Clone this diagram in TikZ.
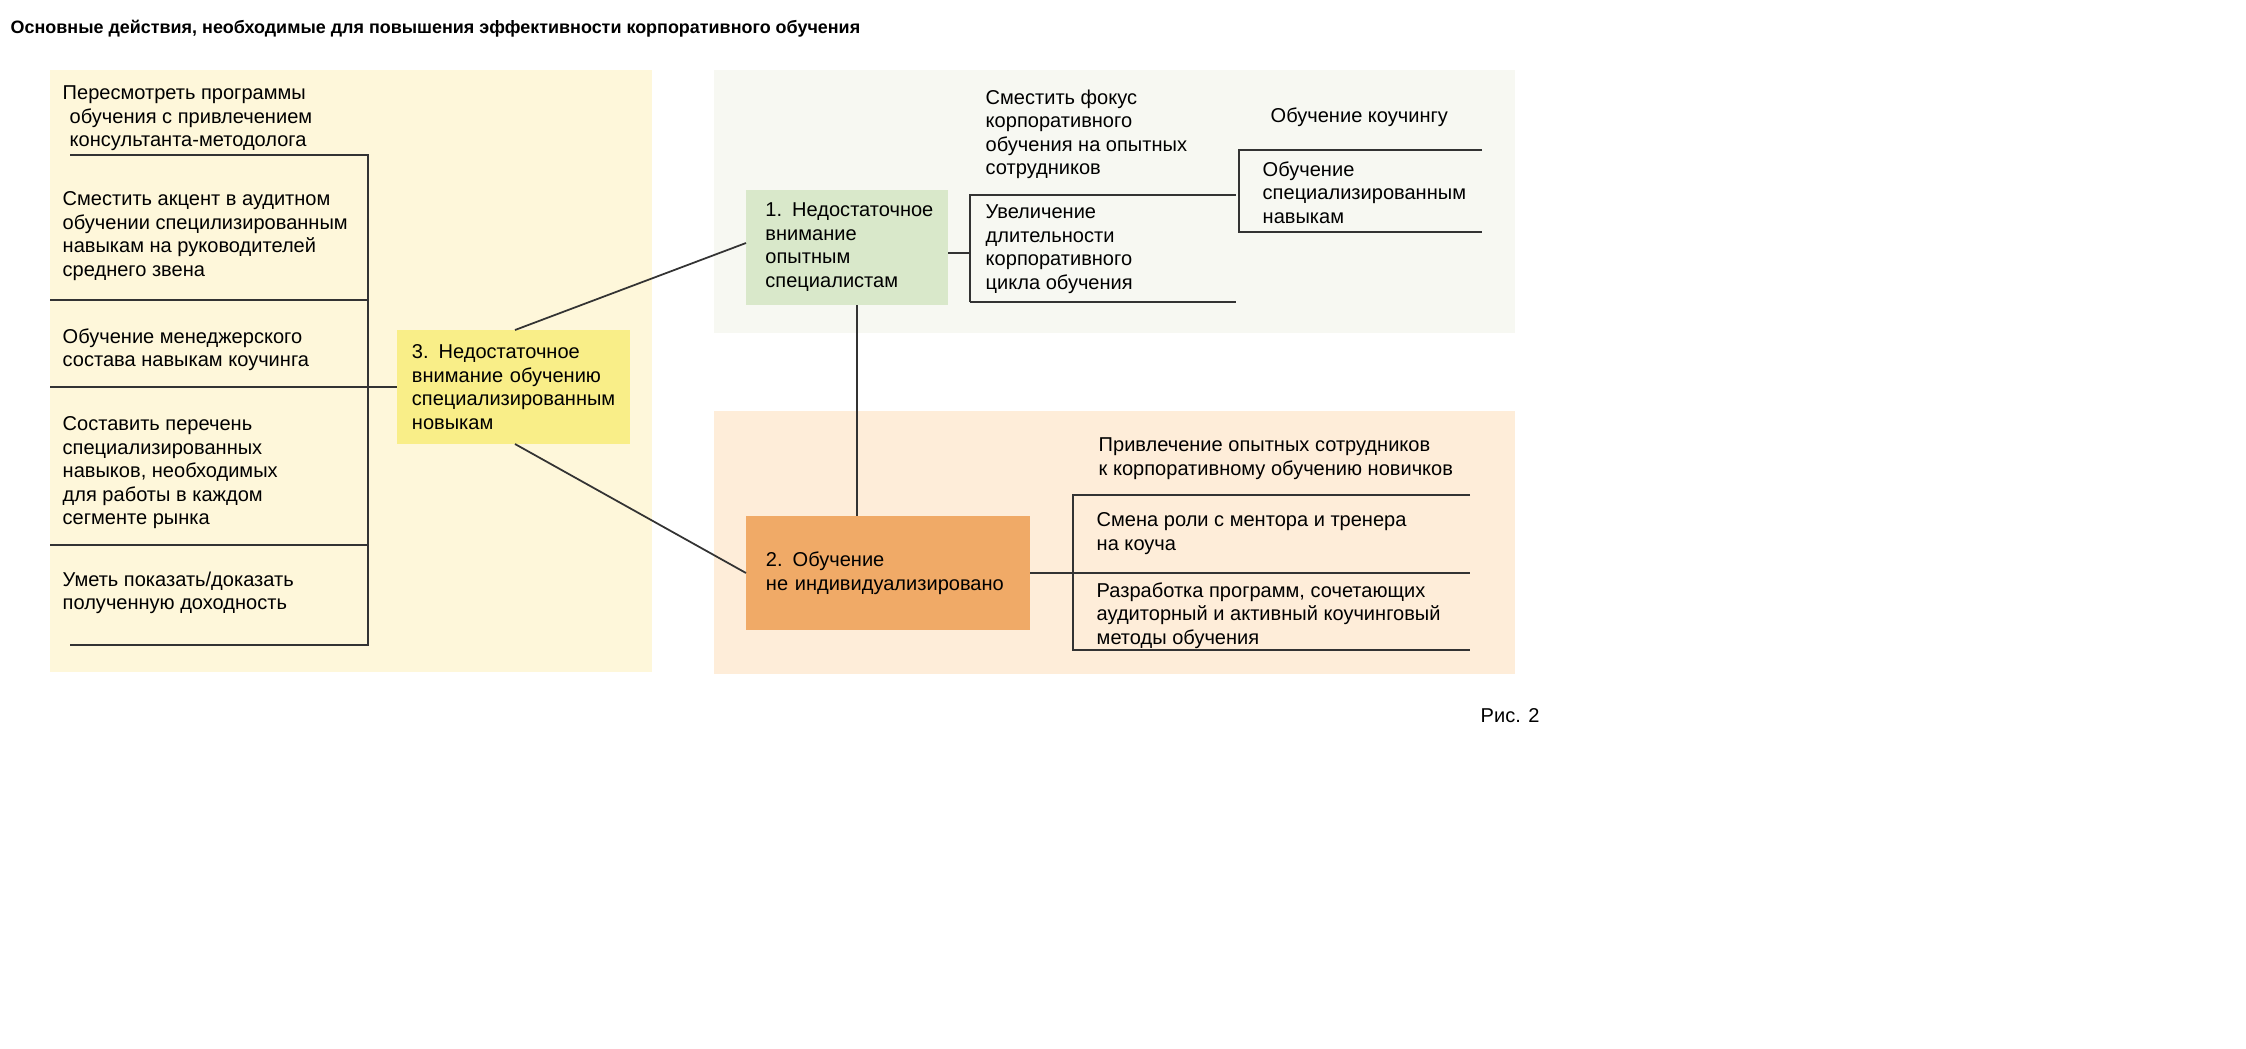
\documentclass[tikz,border=0pt]{standalone}
\usepackage{fontspec}
\setmainfont{Liberation Sans}
\usetikzlibrary{positioning}
\definecolor{bgyellow}{HTML}{FEF7DA}
\definecolor{bggrey}{HTML}{F7F8F2}
\definecolor{bgpeach}{HTML}{FEEDD9}
\definecolor{boxyellow}{HTML}{F9EE88}
\definecolor{boxgreen}{HTML}{D9E8CA}
\definecolor{boxorange}{HTML}{F0AA67}
\tikzset{
  txt/.style={anchor=north west, inner sep=0pt, align=left, font=\fontsize{5.7}{6.7}\selectfont},
  issue/.style={inner sep=0pt, text width=#1, align=left, font=\fontsize{5.7}{6.7}\selectfont},
  ln/.style={draw=black!80, line width=0.5pt}
}
\begin{document}
\begin{tikzpicture}[x=0.01cm,y=-0.01cm]
	\useasboundingbox (0,0) rectangle (2246,1048);
	% backgrounds
	\fill [bgyellow] (50,70) rectangle (652,672);
	\fill [bggrey] (714,70) rectangle (1515,333);
	\fill [bgpeach] (714,411) rectangle (1515,674);
	\node [txt, font=\bfseries\fontsize{5.1}{6.7}\selectfont] (title) at (10,19) {Основные действия, необходимые для повышения эффективности корпоративного обучения};
	% issue boxes
	\fill [boxyellow] (397,330) rectangle (630,444);
	\node [issue=2.02cm] (i3) at (513,387) {3. Недостаточное\\внимание обучению\\специализированным\\новыкам};
	\fill [boxgreen] (746,190) rectangle (948,305);
	\node [issue=1.75cm] (i1) at (853,247) {1. Недостаточное\\внимание\\опытным\\специалистам};
	\fill [boxorange] (746,516) rectangle (1030,630);
	\node [issue=2.44cm] (i2) at (888,573) {2. Обучение\\не индивидуализировано};
	\coordinate (b3n) at (515,330);
	\coordinate (b3s) at (515,444);
	\coordinate (b1w) at (746,243);
	\coordinate (b1s) at (857,305);
	\coordinate (b1e) at (948,253);
	\coordinate (b2w) at (746,573);
	\coordinate (b2n) at (857,516);
	\coordinate (b2e) at (1030,573);
	\coordinate (b3w) at (397,387);
	% left bracket
	\coordinate (l0) at (70,155);
	\coordinate (l1) at (368,155);
	\coordinate (l2) at (368,645);
	\coordinate (l3) at (70,645);
	\draw [ln] (l0) -- (l1) -- (l2) -- (l3);
	\foreach \y in {300,545} \draw [ln] (50,\y) -- (368,\y);
	\draw [ln] (50,387) -- (b3w);
	\node [txt] (a0) at (62,85) {Пересмотреть программы\\\hspace{2pt}обучения с привлечением\\\hspace{2pt}консультанта-методолога};
	\node [txt] (a1) at (62,191) {Сместить акцент в аудитном\\обучении специлизированным\\навыкам на руководителей\\среднего звена};
	\node [txt] (a2) at (62,328) {Обучение менеджерского\\состава навыкам коучинга};
	\node [txt] (a3) at (62,416) {Составить перечень\\специализированных\\навыков, необходимых\\для работы в каждом\\сегменте рынка};
	\node [txt] (a4) at (62,571) {Уметь показать/доказать\\полученную доходность};
	% connectors
	\draw [ln] (b3n) -- (b1w);
	\draw [ln] (b3s) -- (b2w);
	\draw [ln] (b1s) -- (b2n);
	% top right
	\draw [ln] (b1e) -- (970,253);
	\draw [ln] (970,302) -- (970,195) -- (1236,195);
	\draw [ln] (970,302) -- (1236,302);
	\draw [ln] (1482,150) -- (1239,150) -- (1239,232) -- (1482,232);
	\node [txt] (c0) at (985,89) {Сместить фокус\\корпоративного\\обучения на опытных\\сотрудников};
	\node [txt] (c1) at (985,204) {Увеличение\\длительности\\корпоративного\\цикла обучения};
	\node [txt] (c2) at (1270,107) {Обучение коучингу};
	\node [txt] (c3) at (1262,161) {Обучение\\специализированным\\навыкам};
	% bottom right
	\draw [ln] (b2e) -- (1073,573);
	\draw [ln] (1470,495) -- (1073,495) -- (1073,650) -- (1470,650);
	\draw [ln] (1073,573) -- (1470,573);
	\node [txt] (d0) at (1098,437) {Привлечение опытных сотрудников\\к корпоративному обучению новичков};
	\node [txt] (d1) at (1096,512) {Смена роли с ментора и тренера\\на коуча};
	\node [txt] (d2) at (1096,582) {Разработка программ, сочетающих\\аудиторный и активный коучинговый\\методы обучения};
	\node [txt] (fig) at (1480,708) {Рис. 2};
\end{tikzpicture}
\end{document}
